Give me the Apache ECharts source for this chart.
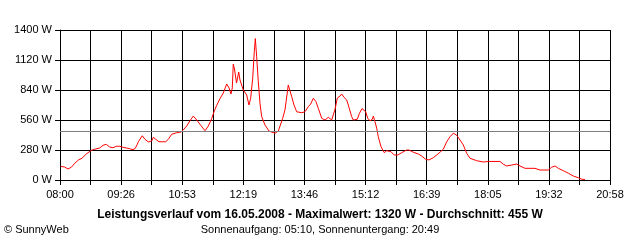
<!DOCTYPE html>
<html><head><meta charset="utf-8">
<script src="https://cdn.jsdelivr.net/npm/echarts@6/dist/echarts.min.js"></script>
<style>html,body{margin:0;padding:0;background:#fff}#c{width:640px;height:240px}</style>
</head><body><div id="c"></div>
<script>
// minutes after 08:00
const minutes = [1,6.6,11.3,16,20.8,26.5,31.1,37.2,44.3,49.1,56.2,60.8,65.5,70.3,75,79.6,84.4,89.1,93.8,98.6,103.3,106.5,109.3,110.8,116.4,120.2,124.9,129.7,132,135.4,140,144.7,149.5,153.2,158,165.1,171.2,174.4,179.2,183.9,188.6,193.4,199,205.1,209.8,214.6,218.3,221.7,226.3,231,235.8,239.1,241.9,243.7,245.1,246.8,249.7,252.8,254.6,257,259.3,264.1,267.3,269.7,272.6,274.8,276.3,278.2,280.5,282.9,285.3,290,295.6,304.1,308.8,315,318.3,322.9,327.8,331,334.8,341.9,346.6,351.2,354.6,358.3,362.1,365.4,370.2,374.9,379.5,384.3,389,392.3,396.1,398.5,401.7,405.5,407.8,412.6,414.9,420.5,423.6,427.2,432.4,435.3,438.5,441.8,443.2,445.6,448,450.2,454.1,458.7,462.1,464.4,468.2,472.9,477.7,483.3,490.4,493.7,499.8,506.8,511.6,517.3,522,528,532.9,542.2,547,551.7,556.3,558,560.9,565.8,570.5,575.3,580,589.5,598.8,605.8,622.4,627.1,631.9,639,646,650.7,657.8,671.9,679,690.7,695.5,700.2,704.9,712,719.1,726.2,733.3,738.1,742.6];
const watts = [128,121,103,119,156,189,203,243,277,287,299,324,333,308,301,315,315,305,299,292,283,296,333,357,413,380,355,364,399,380,357,357,357,380,427,441,448,467,504,553,597,560,511,460,504,574,645,697,759,812,896,859,803,859,1081,1036,905,1008,933,917,840,793,700,763,949,1197,1320,1151,917,716,591,513,457,436,457,576,656,887,777,700,637,628,637,684,709,763,731,669,576,560,585,560,660,765,784,803,772,747,700,591,560,567,623,667,637,576,553,567,597,544,483,404,311,255,273,289,264,233,233,255,280,280,259,243,224,193,187,208,233,287,357,404,436,439,420,373,327,249,203,180,168,173,173,147,131,140,149,131,109,109,93,93,119,131,109,87,63,37,21,7,5];
const xTickLabels = ["08:00","09:26","10:53","12:19","13:46","15:12","16:39","18:05","19:32","20:58"];
const yTicks = [0,280,560,840,1120,1400];
const averageW = 455;
const titleText = "Leistungsverlauf vom 16.05.2008 - Maximalwert: 1320 W - Durchschnitt: 455 W";
const subText = "Sonnenaufgang: 05:10, Sonnenuntergang: 20:49";
const copyText = "© SunnyWeb";

const spanMin = 778;
const xInterval = spanMin / 18;
const font = "Liberation Sans";
const chart = echarts.init(document.getElementById('c'));
chart.setOption({
  animation: false,
  backgroundColor: '#fff',
  textStyle: {fontFamily: font},
  grid: {left: 60, right: 30, top: 30, bottom: 60, containLabel: false},
  graphic: [
    {type: 'text', left: 'center', top: 209, style: {text: titleText, font: 'bold 12px ' + font, fill: '#000'}},
    {type: 'text', left: 'center', top: 224, style: {text: subText, font: '11px ' + font, fill: '#000'}},
    {type: 'text', left: 4, top: 224, style: {text: copyText, font: '11px ' + font, fill: '#000'}}
  ],
  xAxis: {
    type: 'value', min: 0, max: xInterval * 18, interval: xInterval,
    axisLine: {show: true, lineStyle: {color: '#000', width: 1}},
    axisTick: {show: true, length: 5, lineStyle: {color: '#000'}},
    splitLine: {show: true, lineStyle: {color: '#000', width: 1}},
    axisLabel: {
      color: '#000', fontSize: 11, margin: 9, showMaxLabel: true, showMinLabel: true,
      formatter: function (v) {
        const i = Math.round(v / xInterval);
        return i % 2 === 0 ? xTickLabels[i / 2] : '';
      }
    }
  },
  yAxis: {
    type: 'value', min: yTicks[0], max: yTicks[yTicks.length - 1], interval: yTicks[1] - yTicks[0],
    axisLine: {show: true, lineStyle: {color: '#000', width: 1}},
    axisTick: {show: true, length: 5, lineStyle: {color: '#000'}},
    splitLine: {show: true, lineStyle: {color: '#000', width: 1}},
    axisLabel: {color: '#000', fontSize: 11, margin: 8, formatter: function (v) { return String(v) + ' W'; }}
  },
  series: [{
    type: 'line', symbol: 'none', smooth: false,
    lineStyle: {color: '#ff0000', width: 1},
    data: minutes.map((m, i) => [m, watts[i]]),
    markLine: {
      silent: true, symbol: 'none', label: {show: false},
      lineStyle: {color: '#808080', type: 'solid', width: 1},
      data: [{yAxis: averageW}]
    },
    z: 3
  }]
});
</script></body></html>
